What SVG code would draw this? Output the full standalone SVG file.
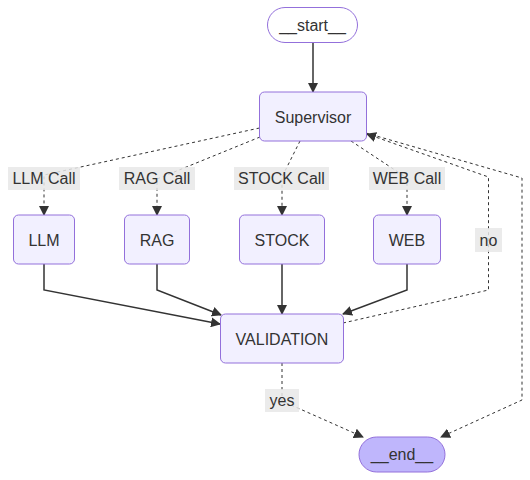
<svg xmlns="http://www.w3.org/2000/svg" width="530" height="480" viewBox="0 0 530 480">
<style>
.node rect{fill:#f2f0ff;stroke:#9370db;stroke-width:1}
.node text,.lbl text{font-family:"Liberation Sans",Arial,sans-serif;font-size:16px;fill:#333;text-anchor:middle}
.lbl rect{fill:#e8e8e8;fill-opacity:0.85;stroke:none}
.solid{fill:none;stroke:#333;stroke-width:1.5}
.dot{fill:none;stroke:#333;stroke-width:1;stroke-dasharray:3 3}
</style>
<defs>
<marker id="ah" viewBox="0 0 10 10" refX="9" refY="5" markerWidth="10" markerHeight="10" markerUnits="userSpaceOnUse" orient="auto">
<path d="M0,0 L10,5 L0,10 z" fill="#333"/>
</marker>
</defs>
<rect width="530" height="480" fill="#fff"/>
<g id="edges">
<path class="solid" d="M313,42 L313,92" marker-end="url(#ah)"/>
<path class="dot" d="M259.5,128 L44,175 L44,215" marker-end="url(#ah)"/>
<path class="dot" d="M260,137 L157,179 L157,215" marker-end="url(#ah)"/>
<path class="dot" d="M300,141 L282,177 L282,215" marker-end="url(#ah)"/>
<path class="dot" d="M351,141 L407,178 L407,215" marker-end="url(#ah)"/>
<path class="solid" d="M44,264 L44,290 L220,324" marker-end="url(#ah)"/>
<path class="solid" d="M157,264 L157,290 L221,315" marker-end="url(#ah)"/>
<path class="solid" d="M282,264 L282,314" marker-end="url(#ah)"/>
<path class="solid" d="M407,264 L407,290 L343,314" marker-end="url(#ah)"/>
<path class="dot" d="M343,323 L488.5,290 L488.5,177 L367,134" marker-end="url(#ah)"/>
<path class="dot" d="M366,133 L522,178 L522,400 L441,437" marker-end="url(#ah)"/>
<path class="dot" d="M282,363 L282,401 L363,437" marker-end="url(#ah)"/>
</g>
<g id="edge-labels">
<g class="lbl"><rect x="8" y="167" width="72" height="23"/><text x="44" y="184">LLM Call</text></g>
<g class="lbl"><rect x="119" y="167" width="76" height="23"/><text x="157" y="184">RAG Call</text></g>
<g class="lbl"><rect x="234" y="167" width="95" height="23"/><text x="281.5" y="184">STOCK Call</text></g>
<g class="lbl"><rect x="369" y="167" width="76" height="23"/><text x="407" y="184">WEB Call</text></g>
<g class="lbl"><rect x="475" y="228" width="27" height="24"/><text x="488.5" y="245.5">no</text></g>
<g class="lbl"><rect x="265" y="389" width="34" height="23"/><text x="282" y="406">yes</text></g>
</g>
<g id="node-start" class="node"><rect x="267.5" y="7.5" width="90" height="35" rx="17.5" style="fill:#fff"/><text x="312.5" y="30.5">__start__</text></g>
<g id="node-supervisor" class="node"><rect x="259.5" y="92" width="107" height="49" rx="5"/><text x="313" y="122.5">Supervisor</text></g>
<g id="node-llm" class="node"><rect x="13.5" y="215" width="61" height="49" rx="5"/><text x="44" y="245.5">LLM</text></g>
<g id="node-rag" class="node"><rect x="124.5" y="215" width="65" height="49" rx="5"/><text x="157" y="245.5">RAG</text></g>
<g id="node-stock" class="node"><rect x="239.5" y="215" width="85" height="49" rx="5"/><text x="282" y="245.5">STOCK</text></g>
<g id="node-web" class="node"><rect x="373.5" y="215" width="67" height="49" rx="5"/><text x="407" y="245.5">WEB</text></g>
<g id="node-validation" class="node"><rect x="220.5" y="314" width="123" height="49" rx="5"/><text x="282" y="344.5">VALIDATION</text></g>
<g id="node-end" class="node"><rect x="359" y="437" width="86" height="35" rx="17.5" style="fill:#bfb6fc"/><text x="402" y="460">__end__</text></g>
</svg>
